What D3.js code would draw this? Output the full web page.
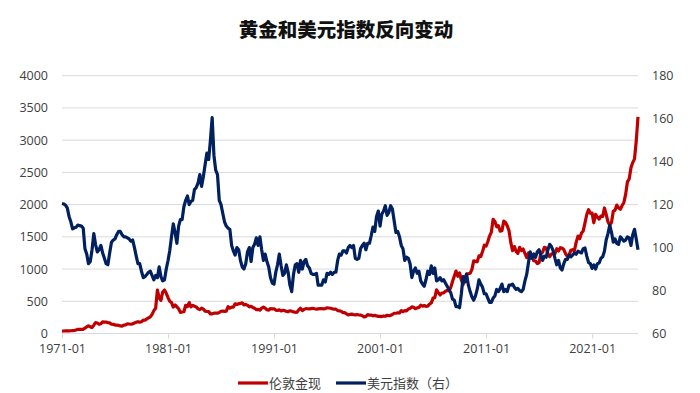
<!DOCTYPE html>
<html>
<head>
<meta charset="utf-8">
<script src="https://cdn.jsdelivr.net/npm/d3@7"></script>
<style>
  body { margin: 0; background: #fff; }
  svg text { font-family: "Noto Sans CJK SC", "Noto Sans", sans-serif; }
</style>
</head>
<body>
<div id="chart"></div>
<script>
// bi-monthly samples (Jan, Mar, May, Jul, Sep, Nov)
const startMonth = "1971-01";
const stepMonths = 2;

// London gold spot, USD/oz (left axis)
const gold = [
  37.9, 38.9, 40.5, 40.9, 42.0, 42.9,
  46.0, 48.3, 54.6, 65.7, 65.5, 62.9,
  65.1, 84.4, 102, 120, 103, 94.8,
  129, 168, 163, 143, 151, 181,
  176, 178, 167, 165, 144, 142,
  131, 132, 127, 117, 114, 131,
  132, 148, 147, 144, 149, 162,
  173, 183, 176, 183, 208, 206,
  227, 242, 257, 296, 355, 392,
  675, 553, 513, 644, 674, 623,
  557, 500, 480, 410, 443, 414,
  384, 328, 334, 338, 438, 417,
  480, 414, 437, 423, 412, 382,
  370, 394, 377, 347, 341, 341,
  303, 304, 316, 317, 316, 326,
  345, 346, 342, 348, 418, 392,
  408, 409, 461, 450, 460, 467,
  477, 444, 451, 437, 413, 422,
  404, 391, 371, 375, 362, 394,
  410, 394, 369, 362, 388, 381,
  384, 363, 357, 368, 349, 360,
  354, 344, 338, 353, 345, 335,
  329, 330, 367, 392, 355, 374,
  386, 384, 381, 386, 391, 384,
  378, 383, 385, 386, 383, 386,
  399, 396, 392, 383, 379, 378,
  355, 352, 344, 324, 323, 306,
  289, 296, 300, 293, 289, 294,
  287, 286, 277, 256, 265, 293,
  284, 286, 275, 282, 273, 266,
  265, 263, 272, 268, 283, 276,
  282, 295, 314, 314, 319, 319,
  356, 340, 355, 351, 379, 389,
  414, 406, 384, 398, 405, 439,
  424, 434, 421, 424, 455, 476,
  549, 557, 676, 634, 598, 628,
  631, 655, 667, 665, 712, 806,
  889, 968, 888, 940, 830, 760,
  858, 924, 927, 934, 996, 1128,
  1118, 1113, 1205, 1193, 1271, 1370,
  1356, 1424, 1512, 1572, 1772, 1739,
  1656, 1673, 1587, 1594, 1744, 1721,
  1670, 1593, 1414, 1286, 1349, 1275,
  1244, 1336, 1288, 1311, 1241, 1176,
  1250, 1179, 1199, 1130, 1125, 1086,
  1097, 1245, 1260, 1337, 1326, 1238,
  1192, 1231, 1246, 1237, 1315, 1281,
  1331, 1325, 1303, 1238, 1198, 1221,
  1291, 1300, 1284, 1413, 1511, 1471,
  1560, 1591, 1716, 1846, 1922, 1866,
  1867, 1718, 1850, 1807, 1775, 1822,
  1817, 1948, 1849, 1733, 1681, 1725,
  1898, 1912, 1992, 1950, 1928, 1985,
  2034, 2159, 2352, 2398, 2571, 2652,
  2709, 2983, 3360
];

// US dollar index (right axis)
const dxy = [
  120.5, 120.3, 119.8, 118.5, 114.5, 112.0,
  108.7, 109.2, 109.5, 110.5, 110.2, 110.0,
  109.0, 99.5, 97.0, 92.5, 93.5, 99.0,
  106.5, 101.5, 98.0, 99.0, 101.0, 97.5,
  95.0, 92.5, 92.0, 97.5, 102.5, 103.5,
  104.0, 106.0, 107.5, 107.5, 106.0, 105.0,
  105.0, 104.5, 104.0, 103.0, 103.5, 100.0,
  96.0, 92.5, 92.5, 89.0, 86.0, 86.5,
  87.5, 88.5, 89.0, 87.0, 85.0, 87.0,
  86.0, 91.0, 86.5, 84.5, 85.0, 90.0,
  94.0, 98.5, 105.0, 111.0, 107.0, 102.0,
  110.0, 113.0, 113.0, 119.0, 122.0, 124.0,
  120.0, 121.5, 122.0, 127.0, 128.0, 130.0,
  134.0, 128.5, 133.0, 138.5, 144.0, 141.0,
  150.0, 160.5, 143.0, 136.0, 134.0, 122.0,
  120.0, 116.0, 112.0, 110.0, 109.0, 108.5,
  101.0, 98.5, 96.5, 100.0, 99.0, 94.0,
  91.0, 90.0, 92.5, 98.0, 100.0, 93.5,
  100.0, 101.5, 104.5, 101.0, 105.0, 99.0,
  94.0, 97.0, 93.5, 91.0, 86.0, 83.5,
  83.0, 88.5, 92.0, 97.0, 91.5, 87.0,
  88.0, 92.0, 88.5, 82.5, 79.5, 87.5,
  92.0, 92.5, 88.5, 94.0, 90.0, 93.5,
  94.5, 91.5, 90.5, 88.0, 87.5, 87.5,
  88.0, 82.5, 82.5, 82.5, 85.0, 84.0,
  88.0, 87.5, 88.5, 87.5, 88.5, 88.5,
  94.0, 97.0, 96.5, 98.5, 98.5, 97.5,
  100.0, 101.0, 100.0, 101.0, 95.0, 94.5,
  95.0, 99.5, 101.0, 102.0, 99.0, 102.0,
  102.0, 105.5, 109.5, 107.5, 114.5, 117.0,
  110.0, 115.5, 117.0, 119.5, 115.0, 116.5,
  119.5, 118.0, 112.5, 107.0, 107.5, 105.0,
  101.0, 99.5, 94.0, 95.5, 95.0, 92.5,
  86.0, 89.0, 90.5, 88.0, 89.0, 84.5,
  83.0, 82.0, 85.0, 89.0, 87.5, 91.5,
  88.0, 90.5, 84.5, 85.0, 86.0, 84.5,
  85.0, 83.5, 82.0, 80.5, 79.0, 76.0,
  75.5, 72.5, 72.5, 72.0, 78.5, 86.5,
  84.0, 87.5, 82.5, 79.5, 77.0, 75.5,
  77.5, 80.5, 85.0, 83.0, 81.5, 78.5,
  78.5, 76.5, 74.5, 74.5, 76.5, 77.5,
  80.5, 79.5, 81.0, 83.0, 79.5, 80.5,
  79.5, 82.5, 82.5, 83.0, 81.5, 80.5,
  81.0, 80.0, 79.5, 80.5, 84.5, 87.5,
  93.0, 98.0, 95.0, 97.0, 95.5, 98.0,
  99.0, 96.5, 94.0, 96.0, 95.5, 99.0,
  101.5, 100.5, 98.5, 95.0, 92.0, 94.0,
  90.5, 89.5, 92.5, 94.5, 94.5, 96.5,
  95.7, 96.5, 97.5, 96.9, 98.3, 97.9,
  97.5, 99.5, 99.8, 96.0, 93.0, 92.5,
  90.3, 91.9, 90.0, 92.5, 92.8, 95.0,
  95.7, 98.3, 103.5, 106.5, 110.5, 107.0,
  102.5, 104.0, 102.0, 101.5, 105.0, 104.0,
  103.0, 103.5, 105.0, 104.5, 101.0, 106.0,
  108.5, 104.0, 99.0
];

const xTickLabels = ["1971-01", "1981-01", "1991-01", "2001-01", "2011-01", "2021-01"];
const leftTicks = [0, 500, 1000, 1500, 2000, 2500, 3000, 3500, 4000];
const rightTicks = [60, 80, 100, 120, 140, 160, 180];
const seriesNames = ["伦敦金现", "美元指数（右）"];
const title = "黄金和美元指数反向变动";

const width = 700, height = 393;
const plot = { left: 62, right: 638, top: 75.7, bottom: 333.5 };

const parseMonth = d3.timeParse("%Y-%m");
const t0 = parseMonth(startMonth);
const dates = gold.map((_, i) => d3.timeMonth.offset(t0, i * stepMonths));

const x = d3.scaleTime()
  .domain([t0, dates[dates.length - 1]])
  .range([plot.left, plot.right]);
const yL = d3.scaleLinear().domain([0, 4000]).range([plot.bottom, plot.top]);
const yR = d3.scaleLinear().domain([60, 180]).range([plot.bottom, plot.top]);

const svg = d3.select("#chart").append("svg")
  .attr("width", width)
  .attr("height", height);

svg.append("text")
  .attr("x", 346)
  .attr("y", 37)
  .attr("text-anchor", "middle")
  .attr("font-size", 19.5)
  .attr("font-weight", "900")
  .attr("fill", "#111")
  .text(title);

// gridlines
svg.append("g")
  .selectAll("line")
  .data(leftTicks.filter(d => d > 0))
  .join("line")
  .attr("x1", plot.left)
  .attr("x2", plot.right)
  .attr("y1", d => yL(d))
  .attr("y2", d => yL(d))
  .attr("stroke", "#d9d9d9")
  .attr("stroke-width", 1);

const numFont = "'Open Sans', 'Noto Sans', sans-serif";

// left axis
const leftAxis = svg.append("g")
  .attr("transform", `translate(${plot.left},0)`)
  .call(d3.axisLeft(yL).tickValues(leftTicks).tickFormat(d3.format("d")).tickSize(0).tickPadding(14));
leftAxis.select(".domain").remove();
leftAxis.selectAll("text")
  .attr("font-size", 12.5)
  .attr("fill", "#404040")
  .style("font-family", numFont);

// right axis
const rightAxis = svg.append("g")
  .attr("transform", `translate(${plot.right},0)`)
  .call(d3.axisRight(yR).tickValues(rightTicks).tickSize(0).tickPadding(14));
rightAxis.select(".domain").remove();
rightAxis.selectAll("text")
  .attr("font-size", 12.5)
  .attr("fill", "#404040")
  .style("font-family", numFont);

// bottom axis
const xAxis = svg.append("g")
  .attr("transform", `translate(0,${plot.bottom})`)
  .call(d3.axisBottom(x)
    .tickValues(xTickLabels.map(parseMonth))
    .tickSize(5)
    .tickSizeOuter(0)
    .tickPadding(6)
    .tickFormat(d3.timeFormat("%Y-%m")));
xAxis.select(".domain")
  .attr("stroke", "#d9d9d9")
  .attr("d", `M${plot.left},0H${plot.right}`);
xAxis.selectAll(".tick line").attr("stroke", "#d9d9d9");
xAxis.selectAll("text")
  .attr("font-size", 12.5)
  .attr("fill", "#404040")
  .style("font-family", numFont);

const goldLine = d3.line()
  .x((d, i) => x(dates[i]))
  .y(d => yL(d));
const dxyLine = d3.line()
  .x((d, i) => x(dates[i]))
  .y(d => yR(d));

svg.append("path")
  .datum(gold)
  .attr("fill", "none")
  .attr("stroke", "#c00000")
  .attr("stroke-width", 3.2)
  .attr("stroke-linejoin", "round")
  .attr("d", goldLine);

svg.append("path")
  .datum(dxy)
  .attr("fill", "none")
  .attr("stroke", "#002060")
  .attr("stroke-width", 3.2)
  .attr("stroke-linejoin", "round")
  .attr("d", dxyLine);

// legend
const legend = svg.append("g").attr("transform", "translate(0,383)");
const legendItems = [
  { name: seriesNames[0], color: "#c00000", x: 238 },
  { name: seriesNames[1], color: "#002060", x: 336 }
];
legendItems.forEach(item => {
  legend.append("line")
    .attr("x1", item.x).attr("x2", item.x + 30)
    .attr("y1", 0).attr("y2", 0)
    .attr("stroke", item.color)
    .attr("stroke-width", 3.2);
  legend.append("text")
    .attr("x", item.x + 31)
    .attr("y", 4.5)
    .attr("font-size", 13)
    .attr("fill", "#404040")
    .text(item.name);
});
</script>
</body>
</html>
